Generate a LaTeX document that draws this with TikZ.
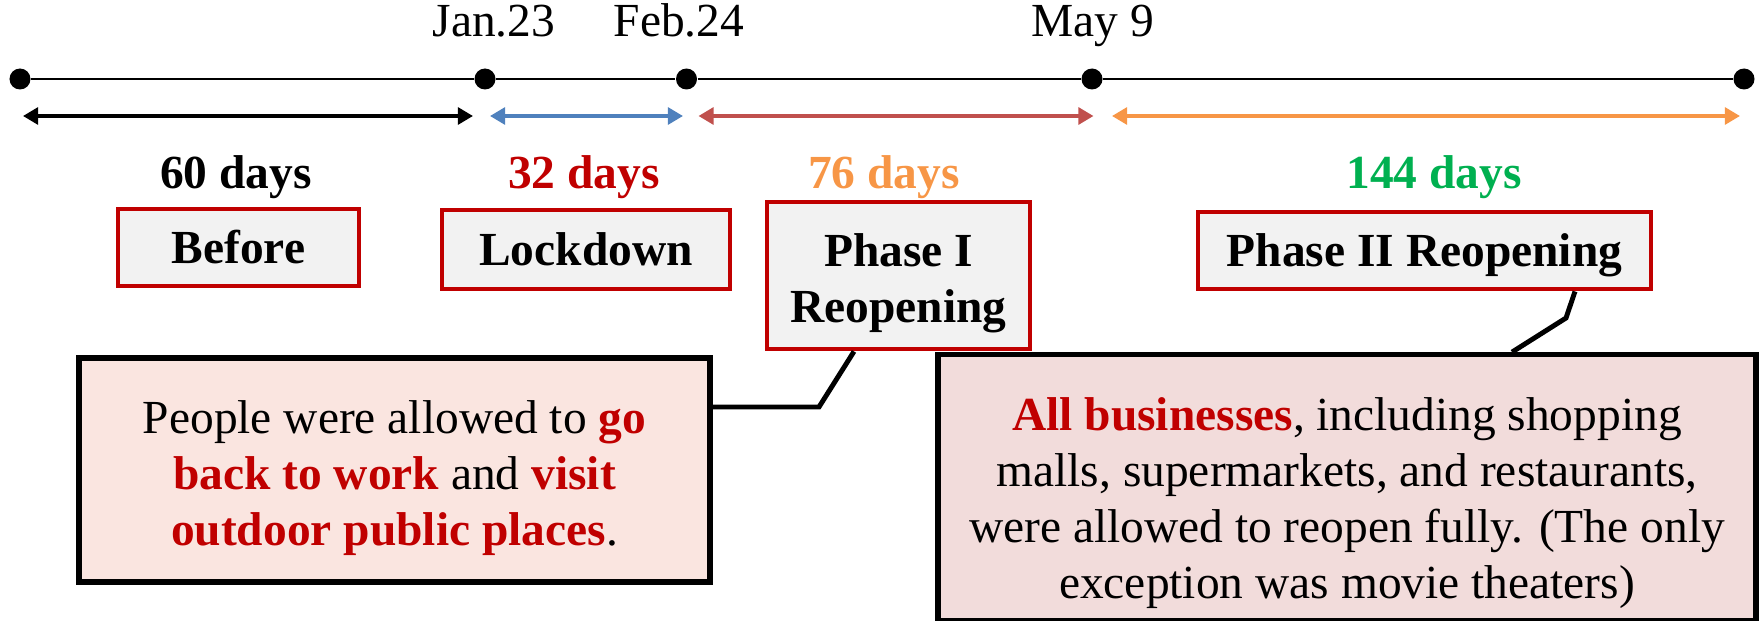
\documentclass[tikz,border=0pt]{standalone}
\usepackage{fontspec}
\setmainfont{Liberation Serif}
\usetikzlibrary{arrows.meta}
\definecolor{hired}{HTML}{C00000}
\definecolor{boxgray}{HTML}{F2F2F2}
\definecolor{spanblue}{HTML}{4F81BD}
\definecolor{spanred}{HTML}{C0504D}
\definecolor{spanorange}{HTML}{F79646}
\definecolor{daygreen}{HTML}{00B050}
\definecolor{notepeach}{HTML}{FAE5E0}
\definecolor{notepink}{HTML}{F2DCDB}
\newcommand{\basefont}{\fontsize{13.5}{15.9}\selectfont}
\newcommand{\hl}[1]{\textcolor{hired}{\textbf{#1}}}
\newcommand{\toppad}[1]{\rule{0pt}{#1}}

\tikzset{
    period/.style={draw=hired, fill=boxgray, line width=1.4pt, font=\basefont\bfseries, align=center},
    note/.style={draw=black, line width=1.5pt, align=center, font=\basefont},
    span/.style={{Triangle[length=4.3pt, width=4.8pt]}-{Triangle[length=4.3pt, width=4.8pt]}, line width=1pt},
    dot/.style={circle, fill=black, inner sep=0pt, minimum size=0.21cm},
    days/.style={font=\basefont\bfseries, anchor=base},
}

\begin{document}
\begin{tikzpicture}[font=\basefont]
    \useasboundingbox (0, 0) rectangle (17.6, 6.2);

    % timeline
    \node[dot] (start) at (0.20, 5.41) {};
    \node[dot] (jan) at (4.85, 5.41) {};
    \node[dot] (feb) at (6.865, 5.41) {};
    \node[dot] (may) at (10.92, 5.41) {};
    \node[dot] (end) at (17.44, 5.41) {};
    \draw[line width=0.85pt] (start) -- (jan) -- (feb) -- (may) -- (end);

    \node[anchor=base] (janlabel) at (4.94, 5.83) {Jan.23};
    \node[anchor=base] (feblabel) at (6.79, 5.83) {Feb.24};
    \node[anchor=base] (maylabel) at (10.93, 5.83) {May 9};

    % spans
    \coordinate (s1) at (0.23, 5.04);
    \coordinate (e1) at (4.73, 5.04);
    \coordinate (s2) at (4.90, 5.04);
    \coordinate (e2) at (6.83, 5.04);
    \coordinate (s3) at (6.985, 5.04);
    \coordinate (e3) at (10.935, 5.04);
    \coordinate (s4) at (11.12, 5.04);
    \coordinate (e4) at (17.40, 5.04);
    \draw[span, black] (s1) -- (e1);
    \draw[span, spanblue] (s2) -- (e2);
    \draw[span, spanred] (s3) -- (e3);
    \draw[span, spanorange] (s4) -- (e4);

    \node[days] (d1) at (2.36, 4.32) {60 days};
    \node[days, text=hired] (d2) at (5.84, 4.32) {32 days};
    \node[days, text=spanorange] (d3) at (8.84, 4.32) {76 days};
    \node[days, text=daygreen] (d4) at (14.34, 4.32) {144 days};

    % periods
    \node[period, minimum width=2.41cm, minimum height=0.77cm] (before) at (2.385, 3.725) {Before};
    \node[period, minimum width=2.88cm, minimum height=0.79cm] (lock) at (5.86, 3.705) {Lockdown};
    \node[period, minimum width=2.63cm, minimum height=1.47cm] (p1) at (8.985, 3.445) {\toppad{13.8pt}Phase I\\Reopening};
    \node[period, minimum width=4.53cm, minimum height=0.77cm, text depth=0pt] (p2) at (14.245, 3.695) {Phase II Reopening};

    % notes
    \node[note, fill=notepeach, minimum width=6.31cm, minimum height=2.24cm] (c1) at (3.945, 1.50)
        {\toppad{13.9pt}People were allowed to \hl{go}\\ \hl{back to work} and \hl{visit}\\ \hl{outdoor public places}.};
    \node[note, fill=notepink, minimum width=8.18cm, minimum height=2.59cm] (c2) at (13.47, 1.325)
        {\toppad{18.3pt}\hl{All businesses}, including shopping\\ malls, supermarkets, and restaurants,\\ were allowed to reopen fully. (The only\\ exception was movie theaters)};

    \coordinate (k1) at (8.19, 2.13);
    \coordinate (k2) at (15.66, 3.02);
    \draw[line width=1.4pt] ([xshift=-0.445cm]p1.south) -- (k1) -- (k1 -| c1.east);
    \draw[line width=1.4pt] ([xshift=1.505cm]p2.south) -- (k2) -- ([xshift=1.65cm]c2.north);
\end{tikzpicture}
\end{document}
